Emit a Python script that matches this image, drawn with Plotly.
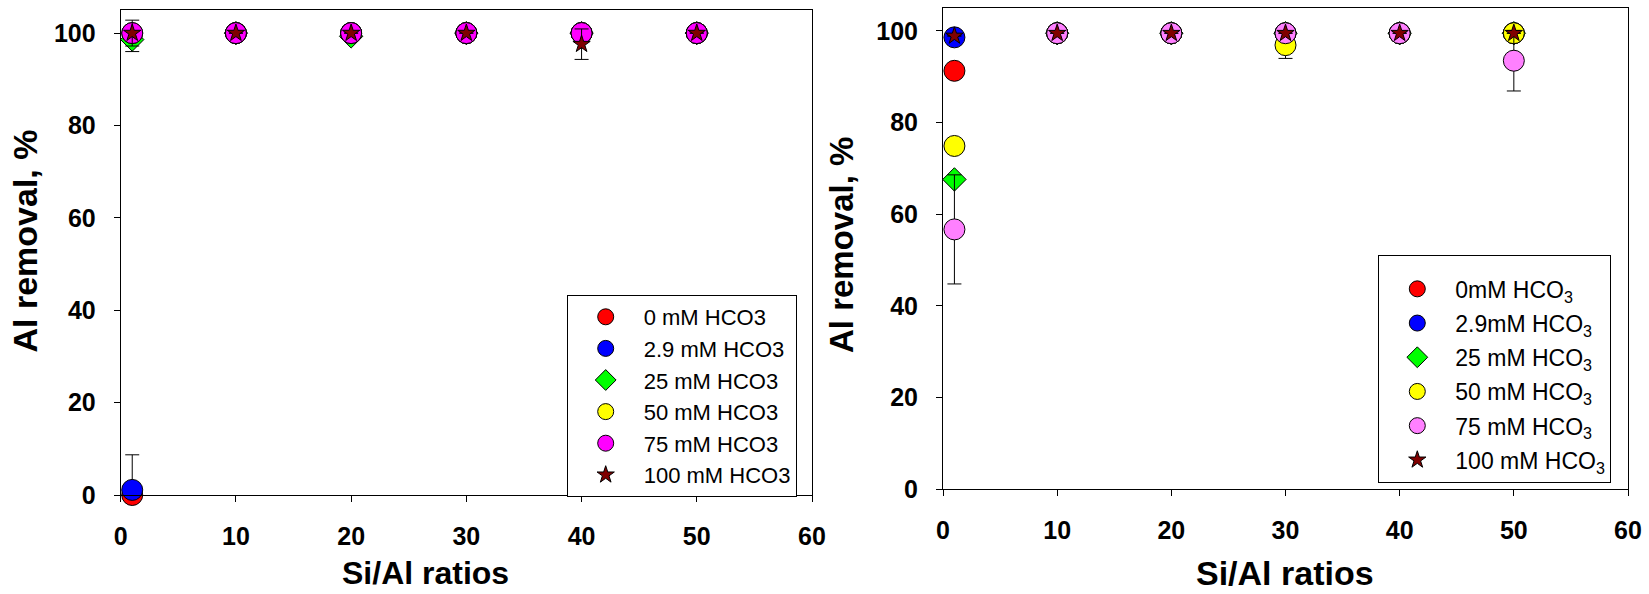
import plotly.graph_objects as go

# ---------------- data ----------------
si_al = [1, 10, 20, 30, 40, 50]
x_ticks = [0, 10, 20, 30, 40, 50, 60]
y_ticks = [0, 20, 40, 60, 80, 100]

# left panel
left_names = ["0 mM HCO3", "2.9 mM HCO3", "25 mM HCO3", "50 mM HCO3", "75 mM HCO3", "100 mM HCO3"]
left_0 = [0.0, 100, 100, 100, 100, 100]
left_2_9 = [1.1, 100, 100, 100, 100, 100]
left_25 = [98.6, 100, 99.3, 100, 100, 100]
left_50 = [100, 100, 100, 100, 100, 100]
left_75 = [100, 100, 100, 100, 100, 100]
left_100 = [100, 100, 100, 100, 97.6, 100]
left_err_0 = [0, 0, 0, 0, 0, 0]
left_err_2_9 = [7.6, 0, 0, 0, 0, 0]
left_err_25 = [2.6, 0, 0, 0, 0, 0]
left_err_50 = [0, 0, 0, 0, 0, 0]
left_err_75 = [0, 0, 0, 0, 0, 0]
left_err_100 = [2.8, 0, 0, 0, 3.3, 0]

# right panel
right_names = ["0mM HCO<sub>3</sub>", "2.9mM HCO<sub>3</sub>", "25 mM HCO<sub>3</sub>",
               "50 mM HCO<sub>3</sub>", "75 mM HCO<sub>3</sub>", "100 mM HCO<sub>3</sub>"]
right_0 = [91.3, 99.5, 99.5, 99.5, 99.5, 99.5]
right_2_9 = [98.6, 99.5, 99.5, 99.5, 99.5, 99.5]
right_25 = [67.6, 99.5, 99.5, 99.5, 99.5, 99.5]
right_50 = [74.9, 99.5, 99.5, 96.9, 99.5, 99.5]
right_75 = [56.7, 99.5, 99.5, 99.5, 99.5, 93.5]
right_100 = [98.9, 99.5, 99.5, 99.5, 99.5, 99.5]
right_err_0 = [0, 0, 0, 0, 0, 0]
right_err_2_9 = [0, 0, 0, 0, 0, 0]
right_err_25 = [0, 0, 0, 0, 0, 0]
right_err_50 = [0, 0, 0, 2.9, 0, 0]
right_err_75 = [11.9, 0, 0, 0, 0, 6.6]
right_err_100 = [0, 0, 0, 0, 0, 0]

# ---------------- styles ----------------
FONT = "Arial, Liberation Sans, sans-serif"
symbols = ["circle", "circle", "diamond", "circle", "circle", "star"]
sizes = [21, 21, 18, 21, 21, 13]
left_colors = ["#FF0000", "#0000FF", "#00FF00", "#FFFF00", "#FF00FF", "#800000"]
right_colors = ["#FF0000", "#0000FF", "#00FF00", "#FFFF00", "#FF80FF", "#800000"]

left_series = [left_0, left_2_9, left_25, left_50, left_75, left_100]
left_errs = [left_err_0, left_err_2_9, left_err_25, left_err_50, left_err_75, left_err_100]
left_errminus = [left_err_0, [0, 0, 0, 0, 0, 0], left_err_25, left_err_50, left_err_75, left_err_100]
right_series = [right_0, right_2_9, right_25, right_50, right_75, right_100]
right_errs = [right_err_0, right_err_2_9, right_err_25, right_err_50, right_err_75, right_err_100]

fig = go.Figure()

for i in range(6):
    fig.add_trace(go.Scatter(
        x=si_al, y=left_series[i], mode="markers", name=left_names[i],
        xaxis="x", yaxis="y", legend="legend", legendgroup="L%d" % i,
        cliponaxis=False,
        marker=dict(symbol=symbols[i], size=sizes[i], color=left_colors[i],
                    line=dict(color="black", width=1)),
        error_y=dict(type="data", array=left_errs[i], arrayminus=left_errminus[i],
                     color="black", thickness=1, width=7),
    ))

for i in range(6):
    fig.add_trace(go.Scatter(
        x=si_al, y=right_series[i], mode="markers", name=right_names[i],
        xaxis="x2", yaxis="y2", legend="legend2", legendgroup="R%d" % i,
        cliponaxis=False,
        marker=dict(symbol=symbols[i], size=sizes[i], color=right_colors[i],
                    line=dict(color="black", width=1)),
        error_y=dict(type="data", array=right_errs[i], arrayminus=right_errs[i],
                     color="black", thickness=1, width=7),
    ))

W, H = 1649, 594


def px(v):
    return v / W


def py(v):
    return 1 - v / H


axis_common = dict(
    showgrid=False, zeroline=False, showline=True, linecolor="black", linewidth=1,
    mirror=True, ticks="outside", ticklen=6, tickwidth=1, tickcolor="black",
    tickfont=dict(family=FONT, size=25, color="black", weight="bold"),
    ticklabelstandoff=13, automargin=False,
)

fig.update_layout(
    width=W, height=H,
    margin=dict(l=0, r=0, t=0, b=0, pad=0),
    paper_bgcolor="white", plot_bgcolor="white",
    xaxis=dict(domain=[px(120.7), px(812)], range=[0, 60], tickvals=x_ticks,
               anchor="y", **axis_common),
    yaxis=dict(domain=[py(495), py(10)], range=[0, 105], tickvals=y_ticks,
               anchor="x", **axis_common),
    xaxis2=dict(domain=[px(943), px(1628)], range=[0, 60], tickvals=x_ticks,
                anchor="y2", **axis_common),
    yaxis2=dict(domain=[py(489.3), py(8)], range=[0, 105], tickvals=y_ticks,
                anchor="x2", **axis_common),
    legend=dict(
        x=px(566.7), y=py(295), xanchor="left", yanchor="top",
        bgcolor="white", bordercolor="black", borderwidth=1,
        font=dict(family=FONT, size=22, color="black"),
        itemwidth=66, tracegroupgap=0,
    ),
    legend2=dict(
        x=px(1378.3), y=py(254.7), xanchor="left", yanchor="top",
        bgcolor="white", bordercolor="black", borderwidth=1,
        font=dict(family=FONT, size=23, color="black"),
        itemwidth=66, tracegroupgap=1.3,
        title=dict(text=" ", font=dict(size=9)),
    ),
    annotations=[
        dict(text="Al removal, %", x=px(24.5), y=py(241), xref="paper", yref="paper",
             textangle=-90, showarrow=False, xanchor="center", yanchor="middle",
             font=dict(family=FONT, size=34, color="black", weight="bold")),
        dict(text="Al removal, %", x=px(842), y=py(245), xref="paper", yref="paper",
             textangle=-90, showarrow=False, xanchor="center", yanchor="middle",
             font=dict(family=FONT, size=33, color="black", weight="bold")),
        dict(text="Si/Al ratios", x=px(425.7), y=py(572.5), xref="paper", yref="paper",
             showarrow=False, xanchor="center", yanchor="middle",
             font=dict(family=FONT, size=32, color="black", weight="bold")),
        dict(text="Si/Al ratios", x=px(1285), y=py(572.5), xref="paper", yref="paper",
             showarrow=False, xanchor="center", yanchor="middle",
             font=dict(family=FONT, size=34, color="black", weight="bold")),
    ],
)

fig.write_html(
    "out.html",
    config={"displayModeBar": False},
    post_script="document.body.style.margin='0';document.body.style.padding='0';"
                "document.documentElement.style.overflow='hidden';",
)
